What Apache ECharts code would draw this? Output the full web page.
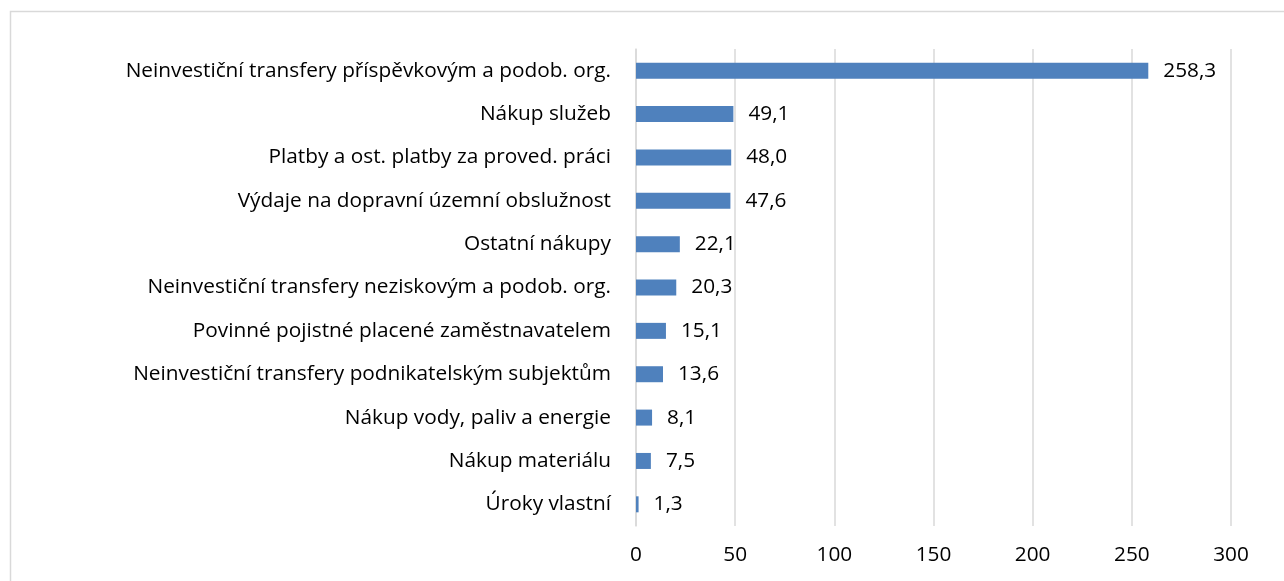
<!DOCTYPE html>
<html lang="cs">
<head>
    <meta charset="UTF-8">
    <title>Výdaje</title>
    <style>
        html, body { margin: 0; padding: 0; background: #fff; }
        #chart { width: 1284px; height: 581px; }
    </style>
</head>
<body>
<div id="chart"></div>
<script src="https://cdn.jsdelivr.net/npm/echarts@6/dist/echarts.min.js"></script>
<script type="text/javascript">
    // categories from bottom to top (category axis starts at the bottom)
    var categories = ['Úroky vlastní', 'Nákup materiálu', 'Nákup vody, paliv a energie',
        'Neinvestiční transfery podnikatelským subjektům', 'Povinné pojistné placené zaměstnavatelem',
        'Neinvestiční transfery neziskovým a podob. org.', 'Ostatní nákupy',
        'Výdaje na dopravní územní obslužnost', 'Platby a ost. platby za proved. práci',
        'Nákup služeb', 'Neinvestiční transfery příspěvkovým a podob. org.'];
    var values = [1.3, 7.5, 8.1, 13.6, 15.1, 20.3, 22.1, 47.6, 48.0, 49.1, 258.3];
    var xTicks = [0, 50, 100, 150, 200, 250, 300];

    var font = 'Open Sans';
    var fs = 20.8;
    var myChart = echarts.init(document.getElementById('chart'));
    var option = {
        animation: false,
        backgroundColor: '#fff',
        graphic: [{
            type: 'rect',
            shape: { x: 10.5, y: 11.5, width: 1400, height: 700 },
            style: { fill: 'none', stroke: '#d9d9d9', lineWidth: 1.5 }
        }],
        grid: {
            left: 636,
            right: 53,
            top: 49,
            bottom: 55
        },
        xAxis: {
            type: 'value',
            min: xTicks[0],
            max: xTicks[xTicks.length - 1],
            interval: 50,
            axisLine: { show: false },
            axisTick: { show: false },
            splitLine: { lineStyle: { color: '#d9d9d9', width: 1.5 } },
            axisLabel: {
                color: '#000', fontFamily: font, fontSize: fs, margin: 19,
                formatter: function (v) { return String(v); }
            }
        },
        yAxis: {
            type: 'category',
            data: categories,
            axisLine: { show: true, lineStyle: { color: '#d9d9d9', width: 1.5 } },
            axisTick: { show: false },
            axisLabel: { color: '#000', fontFamily: font, fontSize: fs, margin: 25 }
        },
        series: [{
            type: 'bar',
            data: values,
            barWidth: 16,
            itemStyle: { color: '#4f81bd' },
            label: {
                show: true,
                position: 'right',
                distance: 15,
                color: '#000',
                fontFamily: font,
                fontSize: fs,
                formatter: function (p) { return p.value.toFixed(1).replace('.', ','); }
            }
        }]
    };
    myChart.setOption(option);
</script>
</body>
</html>
